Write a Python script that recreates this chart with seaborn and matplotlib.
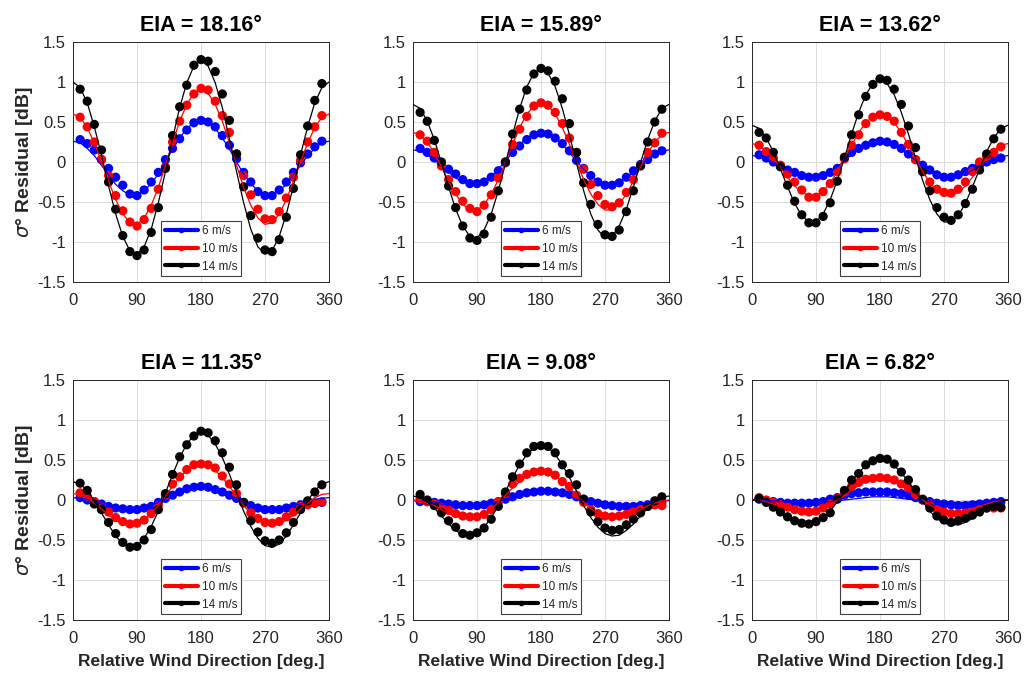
import matplotlib
matplotlib.use("Agg")
import matplotlib.pyplot as plt
from matplotlib.lines import Line2D
import pandas as pd
import seaborn as sns

# ---------------------------------------------------------------------------
# Data: sigma0 residual [dB] versus relative wind direction, per incidence
# angle (EIA) and wind speed.  "obs" = binned residuals (10..350 deg),
# "fit" = harmonic fit curve sampled every 10 deg (0..360 deg).
# ---------------------------------------------------------------------------
eia_titles = ["EIA = 18.16°", "EIA = 15.89°", "EIA = 13.62°",
              "EIA = 11.35°", "EIA = 9.08°", "EIA = 6.82°"]
speed_labels = ["6 m/s", "10 m/s", "14 m/s"]
speed_colors = ["#0000ff", "#ff0000", "#000000"]

obs_dirs = list(range(10, 360, 10))
fit_dirs = list(range(0, 361, 10))

x_ticks = [0, 90, 180, 270, 360]
x_tick_labels = ["0", "90", "180", "270", "360"]
y_ticks = [-1.5, -1.0, -0.5, 0.0, 0.5, 1.0, 1.5]
y_tick_labels = ["-1.5", "-1", "-0.5", "0", "0.5", "1", "1.5"]

# EIA = 18.16
obs_1816_6 = [.28, .23, .15, .03, -.08, -.19, -.29, -.40, -.42, -.35, -.25, -.13, .03, .17, .29, .40, .49, .52,
              .50, .44, .33, .21, .04, -.13, -.25, -.37, -.42, -.42, -.35, -.25, -.13, -.01, .10, .19, .26]
obs_1816_10 = [.56, .44, .25, .03, -.17, -.42, -.61, -.75, -.80, -.72, -.58, -.34, -.06, .25, .51, .71, .85, .92,
               .90, .76, .58, .37, .10, -.17, -.41, -.59, -.71, -.72, -.62, -.45, -.19, .02, .25, .44, .58]
obs_1816_14 = [.91, .76, .47, .15, -.25, -.59, -.92, -1.12, -1.17, -1.10, -.88, -.57, -.08, .33, .69, .96, 1.21, 1.28,
               1.26, 1.13, .85, .52, .10, -.31, -.67, -.95, -1.10, -1.12, -.97, -.69, -.33, .09, .45, .77, .98]
fit_1816_6 = [.26, .24, .17, .08, -.04, -.16, -.28, -.36, -.41, -.41, -.36, -.27, -.15, .00, .16, .30, .42, .49, .52,
              .49, .42, .30, .16, .00, -.15, -.27, -.36, -.41, -.41, -.36, -.28, -.16, -.04, .08, .17, .24, .26]
fit_1816_10 = [.60, .56, .43, .24, .00, -.24, -.47, -.65, -.76, -.78, -.70, -.54, -.32, -.04, .24, .51, .72, .86, .91,
               .86, .72, .51, .24, -.04, -.32, -.54, -.70, -.78, -.76, -.65, -.47, -.24, .00, .24, .43, .56, .60]
fit_1816_14 = [1.00, .93, .74, .44, .09, -.30, -.65, -.93, -1.11, -1.15, -1.06, -.84, -.51, -.12, .29, .68, .99, 1.20, 1.27,
               1.20, .99, .68, .29, -.12, -.51, -.84, -1.06, -1.15, -1.11, -.93, -.65, -.30, .09, .44, .74, .93, 1.00]

# EIA = 15.89
obs_1589_6 = [.17, .12, .05, -.03, -.09, -.15, -.22, -.27, -.27, -.25, -.19, -.11, -.01, .12, .20, .28, .34, .36,
              .35, .30, .23, .14, .02, -.08, -.17, -.25, -.29, -.29, -.26, -.19, -.11, -.03, .03, .10, .14]
obs_1589_10 = [.34, .26, .12, -.05, -.22, -.37, -.49, -.58, -.62, -.54, -.41, -.20, .00, .22, .41, .57, .70, .74,
               .71, .62, .48, .30, .12, -.09, -.28, -.42, -.53, -.56, -.51, -.38, -.22, -.04, .12, .24, .36]
obs_1589_14 = [.62, .51, .27, .00, -.30, -.57, -.80, -.95, -.98, -.90, -.69, -.36, .00, .35, .66, .90, 1.10, 1.17,
               1.14, 1.01, .79, .48, .12, -.26, -.53, -.78, -.91, -.93, -.85, -.62, -.36, -.05, .25, .50, .66]
fit_1589_6 = [.15, .14, .09, .03, -.05, -.13, -.20, -.25, -.28, -.28, -.25, -.18, -.09, .01, .12, .22, .30, .35, .37,
              .35, .30, .22, .12, .01, -.09, -.18, -.25, -.28, -.28, -.25, -.20, -.13, -.05, .03, .09, .14, .15]
fit_1589_10 = [.37, .34, .25, .11, -.06, -.24, -.40, -.53, -.60, -.60, -.53, -.40, -.22, .00, .22, .43, .60, .70, .74,
               .70, .60, .43, .22, .00, -.22, -.40, -.53, -.60, -.60, -.53, -.40, -.24, -.06, .11, .25, .34, .37]
fit_1589_14 = [.72, .67, .51, .28, -.01, -.31, -.59, -.80, -.93, -.95, -.85, -.65, -.36, -.02, .34, .67, .94, 1.11, 1.17,
               1.11, .94, .67, .34, -.02, -.36, -.65, -.85, -.95, -.93, -.80, -.59, -.31, -.01, .28, .51, .67, .72]

# EIA = 13.62
obs_1362_6 = [.09, .05, .00, -.05, -.10, -.13, -.17, -.19, -.19, -.17, -.13, -.08, .05, .12, .17, .21, .24, .26,
              .25, .22, .17, .10, .03, -.04, -.10, -.16, -.19, -.19, -.16, -.12, -.08, -.04, .00, .03, .05]
obs_1362_10 = [.21, .13, .05, -.04, -.15, -.25, -.35, -.44, -.44, -.37, -.27, -.12, .04, .21, .34, .48, .56, .59,
               .57, .51, .37, .22, .03, -.12, -.25, -.34, -.38, -.39, -.34, -.25, -.12, .00, .07, .12, .19]
obs_1362_14 = [.37, .30, .12, -.06, -.29, -.49, -.66, -.76, -.76, -.68, -.51, -.24, .06, .34, .59, .82, .97, 1.04,
               1.02, .91, .72, .45, .18, -.12, -.36, -.57, -.69, -.73, -.66, -.52, -.34, -.10, .10, .29, .41]
fit_1362_6 = [.08, .07, .04, .00, -.05, -.10, -.15, -.18, -.20, -.19, -.16, -.12, -.06, .02, .09, .16, .21, .25, .26,
              .25, .21, .16, .09, .02, -.06, -.12, -.16, -.19, -.20, -.18, -.15, -.10, -.05, .00, .04, .07, .08]
fit_1362_10 = [.23, .21, .14, .05, -.07, -.19, -.30, -.38, -.42, -.42, -.36, -.26, -.12, .05, .21, .37, .49, .57, .60,
               .57, .49, .37, .21, .05, -.12, -.26, -.36, -.42, -.42, -.38, -.30, -.19, -.07, .05, .14, .21, .23]
fit_1362_14 = [.46, .42, .30, .13, -.09, -.31, -.52, -.67, -.75, -.75, -.65, -.47, -.23, .05, .35, .62, .84, .98, 1.03,
               .98, .84, .62, .35, .05, -.23, -.47, -.65, -.75, -.75, -.67, -.52, -.31, -.09, .13, .30, .42, .46]

# EIA = 11.35
obs_1135_6 = [.03, .00, -.02, -.05, -.08, -.10, -.11, -.12, -.12, -.10, -.08, -.03, .02, .06, .10, .14, .16, .17,
              .16, .13, .10, .06, .02, -.03, -.07, -.10, -.12, -.12, -.12, -.10, -.08, -.06, -.05, -.04, -.03]
obs_1135_10 = [.09, .05, -.02, -.09, -.15, -.22, -.27, -.30, -.29, -.25, -.17, -.07, .06, .20, .29, .38, .44, .45,
               .44, .40, .30, .20, .08, -.04, -.16, -.23, -.28, -.29, -.27, -.21, -.15, -.08, -.06, -.04, -.02]
obs_1135_14 = [.21, .12, -.05, -.12, -.28, -.42, -.53, -.59, -.58, -.50, -.37, -.12, .08, .32, .54, .69, .80, .86,
               .84, .74, .59, .41, .19, -.03, -.26, -.40, -.51, -.54, -.50, -.41, -.28, -.12, -.01, .10, .19]
fit_1135_6 = [.03, .02, .01, -.02, -.05, -.07, -.10, -.12, -.13, -.12, -.10, -.07, -.03, .02, .06, .11, .14, .16, .17,
              .16, .14, .11, .06, .02, -.03, -.07, -.10, -.12, -.13, -.12, -.10, -.07, -.05, -.02, .01, .02, .03]
fit_1135_10 = [.08, .07, .03, -.04, -.11, -.19, -.25, -.30, -.32, -.30, -.25, -.17, -.07, .05, .17, .28, .37, .43, .45,
               .43, .37, .28, .17, .05, -.07, -.17, -.25, -.30, -.32, -.30, -.25, -.19, -.11, -.04, .03, .07, .08]
fit_1135_14 = [.23, .20, .12, -.01, -.16, -.31, -.45, -.55, -.59, -.57, -.48, -.33, -.14, .09, .32, .53, .70, .81, .85,
               .81, .70, .53, .32, .09, -.14, -.33, -.48, -.57, -.59, -.55, -.45, -.31, -.16, -.01, .12, .20, .23]

# EIA = 9.08
obs_908_6 = [-.02, -.02, -.03, -.04, -.05, -.06, -.07, -.07, -.07, -.06, -.04, -.02, .01, .04, .07, .09, .10, .11,
             .11, .10, .09, .07, .04, .01, -.02, -.04, -.06, -.07, -.08, -.08, -.08, -.07, -.06, -.05, -.03]
obs_908_10 = [.01, -.02, -.05, -.09, -.13, -.17, -.20, -.21, -.21, -.18, -.12, -.02, .08, .20, .27, .32, .35, .36,
              .35, .31, .23, .17, .06, -.03, -.12, -.17, -.20, -.21, -.20, -.18, -.15, -.12, -.08, -.06, -.07]
obs_908_14 = [.07, .00, -.07, -.16, -.26, -.34, -.42, -.44, -.41, -.35, -.24, -.08, .10, .29, .45, .59, .67, .68,
              .67, .59, .44, .33, .19, .01, -.15, -.27, -.35, -.38, -.37, -.31, -.24, -.16, -.08, -.01, .04]
fit_908_6 = [-.01, -.01, -.02, -.03, -.05, -.06, -.08, -.09, -.09, -.08, -.07, -.04, -.02, .01, .04, .07, .09, .11, .11,
             .11, .09, .07, .04, .01, -.02, -.04, -.07, -.08, -.09, -.09, -.08, -.06, -.05, -.03, -.02, -.01, -.01]
fit_908_10 = [.00, -.01, -.04, -.07, -.12, -.17, -.20, -.23, -.23, -.21, -.17, -.11, -.03, .06, .15, .23, .30, .34, .35,
              .34, .30, .23, .15, .06, -.03, -.11, -.17, -.21, -.23, -.23, -.20, -.17, -.12, -.07, -.04, -.01, .00]
fit_908_14 = [.05, .03, -.02, -.10, -.20, -.30, -.38, -.44, -.45, -.42, -.34, -.22, -.07, .11, .28, .44, .57, .65, .68,
              .65, .57, .44, .28, .11, -.07, -.22, -.34, -.42, -.45, -.44, -.38, -.30, -.20, -.10, -.02, .03, .05]

# EIA = 6.82
obs_682_6 = [.01, -.01, -.02, -.03, -.04, -.04, -.04, -.04, -.03, -.02, .01, .03, .06, .08, .09, .10, .10, .10,
             .10, .09, .08, .06, .03, .00, -.02, -.04, -.05, -.06, -.07, -.07, -.06, -.05, -.04, -.03, -.02]
obs_682_10 = [.03, .00, -.03, -.06, -.09, -.12, -.14, -.15, -.14, -.10, -.05, .02, .10, .17, .22, .26, .27, .28,
              .27, .25, .20, .15, .07, .00, -.06, -.12, -.15, -.17, -.17, -.16, -.15, -.12, -.10, -.10, -.10]
obs_682_14 = [.02, -.03, -.09, -.15, -.21, -.26, -.29, -.30, -.27, -.22, -.16, .01, .12, .25, .33, .44, .49, .52,
              .51, .45, .35, .25, .13, .01, -.10, -.20, -.25, -.28, -.26, -.23, -.19, -.15, -.10, -.08, -.09]
fit_682_6 = [.00, .00, -.01, -.01, -.02, -.02, -.03, -.03, -.03, -.03, -.02, -.02, -.01, .00, .01, .02, .03, .04, .04,
             .04, .03, .02, .01, .00, -.01, -.02, -.02, -.03, -.03, -.03, -.03, -.02, -.02, -.01, -.01, .00, .00]
fit_682_10 = [.00, -.01, -.02, -.05, -.08, -.11, -.14, -.16, -.16, -.14, -.11, -.06, .00, .06, .12, .18, .23, .26, .27,
              .26, .23, .18, .12, .06, .00, -.06, -.11, -.14, -.16, -.16, -.14, -.11, -.08, -.05, -.02, -.01, .00]
fit_682_14 = [.00, -.01, -.05, -.10, -.16, -.23, -.28, -.31, -.31, -.29, -.23, -.14, -.02, .10, .23, .34, .43, .49, .51,
              .49, .43, .34, .23, .10, -.02, -.14, -.23, -.29, -.31, -.31, -.28, -.23, -.16, -.10, -.05, -.01, .00]

obs_series = [
    [obs_1816_6, obs_1816_10, obs_1816_14],
    [obs_1589_6, obs_1589_10, obs_1589_14],
    [obs_1362_6, obs_1362_10, obs_1362_14],
    [obs_1135_6, obs_1135_10, obs_1135_14],
    [obs_908_6, obs_908_10, obs_908_14],
    [obs_682_6, obs_682_10, obs_682_14],
]
fit_series = [
    [fit_1816_6, fit_1816_10, fit_1816_14],
    [fit_1589_6, fit_1589_10, fit_1589_14],
    [fit_1362_6, fit_1362_10, fit_1362_14],
    [fit_1135_6, fit_1135_10, fit_1135_14],
    [fit_908_6, fit_908_10, fit_908_14],
    [fit_682_6, fit_682_10, fit_682_14],
]

# Long-form tables for seaborn
obs_rows, fit_rows = [], []
for p, title in enumerate(eia_titles):
    for s, spd in enumerate(speed_labels):
        for d, v in zip(obs_dirs, obs_series[p][s]):
            obs_rows.append({"panel": title, "speed": spd, "direction": d, "residual": v})
        for d, v in zip(fit_dirs, fit_series[p][s]):
            fit_rows.append({"panel": title, "speed": spd, "direction": d, "residual": v})
obs_df = pd.DataFrame(obs_rows)
fit_df = pd.DataFrame(fit_rows)

# ---------------------------------------------------------------------------
sns.set_style("white")
plt.rcParams["font.family"] = ["Liberation Sans", "DejaVu Sans"]
plt.rcParams["mathtext.fontset"] = "dejavusans"

palette = dict(zip(speed_labels, speed_colors))
text_gray = "#262626"

fig = plt.figure(figsize=(10.25, 6.75), dpi=100)
W, H = 1025.0, 675.0
col_left = [73, 413, 752]
col_width = 256
row_top = [42, 380]
row_height = 240

for p, title in enumerate(eia_titles):
    r, c = divmod(p, 3)
    ax = fig.add_axes([col_left[c] / W, 1 - (row_top[r] + row_height) / H,
                       col_width / W, row_height / H])

    sub_obs = obs_df[obs_df["panel"] == title]
    sub_fit = fit_df[fit_df["panel"] == title]

    sns.scatterplot(data=sub_obs, x="direction", y="residual", hue="speed",
                    hue_order=speed_labels, palette=palette, s=44,
                    edgecolor="none", linewidth=0, legend=False, ax=ax, zorder=3)
    sns.lineplot(data=sub_fit, x="direction", y="residual", hue="speed",
                 hue_order=speed_labels, palette=palette, linewidth=0.9,
                 estimator=None, legend=False, ax=ax, zorder=4)

    ax.set_xlim(0, 360)
    ax.set_ylim(-1.5, 1.5)
    ax.set_xticks(x_ticks)
    ax.set_xticklabels(x_tick_labels)
    ax.set_yticks(y_ticks)
    ax.set_yticklabels(y_tick_labels)
    ax.tick_params(axis="both", direction="in", length=3, width=0.6,
                   labelsize=12, colors=text_gray)
    ax.tick_params(axis="x", pad=8)
    ax.tick_params(axis="y", pad=5)
    ax.grid(True, color="#dcdcdc", linewidth=0.7)
    ax.set_axisbelow(True)
    for sp in ax.spines.values():
        sp.set_visible(True)
        sp.set_color(text_gray)
        sp.set_linewidth(0.7)

    ax.set_title(title, fontsize=15.5, fontweight="bold", pad=8, color="black")

    if c == 0:
        ax.set_ylabel(r"$\sigma$° Residual [dB]", fontsize=14, fontweight="bold",
                      color=text_gray, labelpad=2)
    else:
        ax.set_ylabel("")
    if r == 1:
        ax.set_xlabel("Relative Wind Direction [deg.]", fontsize=12.5,
                      fontweight="bold", color=text_gray, labelpad=6)
    else:
        ax.set_xlabel("")

    handles = [Line2D([0], [0], color=col, lw=3, marker=".", markersize=6)
               for col in speed_colors]
    leg = ax.legend(handles, speed_labels, loc="lower center",
                    bbox_to_anchor=(0.5, 0.0), prop={"size": 8.5},
                    frameon=True, fancybox=False, edgecolor="#404040",
                    framealpha=1, handlelength=2.8, handletextpad=0.3,
                    borderpad=0.3, labelspacing=0.5, borderaxespad=0.5)
    for txt in leg.get_texts():
        txt.set_color(text_gray)
    leg.get_frame().set_linewidth(0.8)
    leg.set_zorder(10)

fig.savefig("out.png", dpi=100)
